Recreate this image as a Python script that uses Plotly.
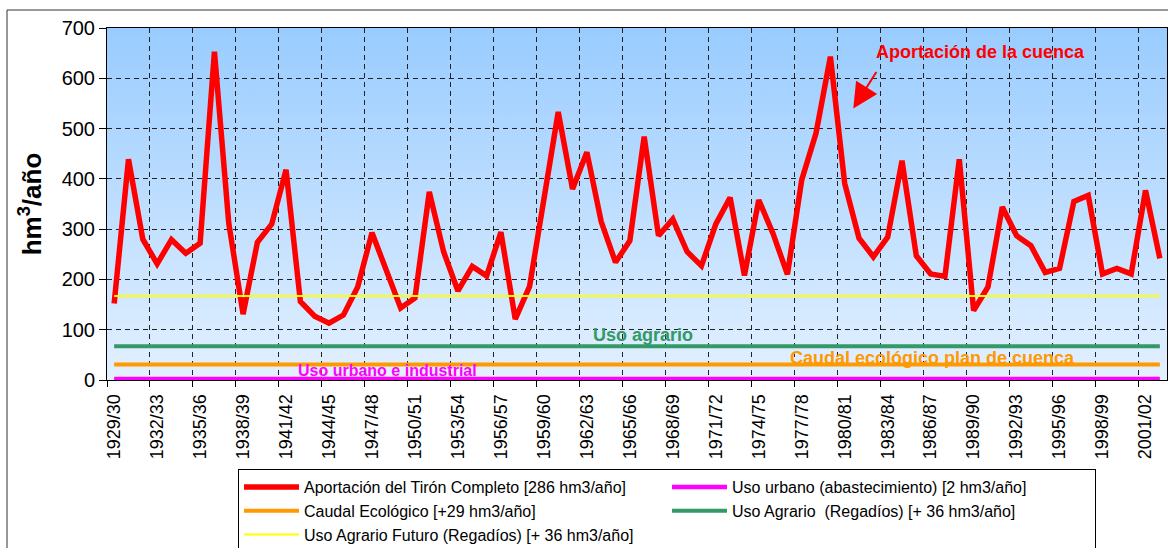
import base64
import plotly.graph_objects as go

# Hydrological years 1929/30 .. 2002/03
start_years = list(range(1929, 2003))
seasons = [f"{y}/{str(y + 1)[-2:]}" for y in start_years]

# Annual inflow of the basin (hm3/year)
aportacion = [152, 439, 280, 231, 279, 252, 272, 653, 312, 131,
              274, 310, 418, 156, 127, 113, 129, 185, 293, 219,
              143, 163, 374, 255, 177, 226, 207, 294, 121, 186,
              358, 533, 380, 453, 315, 234, 277, 484, 287, 320,
              255, 227, 310, 363, 208, 358, 291, 210, 398, 491,
              643, 391, 282, 245, 284, 436, 247, 211, 206, 439,
              138, 185, 344, 287, 267, 214, 222, 355, 367, 211,
              222, 211, 377, 242]

# Cumulative demand levels (hm3/year)
nivel_urbano = 2
nivel_caudal = 31
nivel_agrario = 67
nivel_agrario_futuro = 167

y_ticks = [0, 100, 200, 300, 400, 500, 600, 700]

n = len(seasons)
idx = list(range(n))

FONT = "Liberation Sans, Arial, sans-serif"
RED = "#FF0000"
MAGENTA = "#FF00FF"
ORANGE = "#FF9900"
GREEN = "#339966"
YELLOW = "#FFFF00"

fig = go.Figure()

fig.add_trace(go.Scatter(
    x=idx, y=[nivel_urbano] * n, mode="lines",
    line=dict(color=MAGENTA, width=4.5),
    name="Uso urbano (abastecimiento) [2 hm3/año]", legendrank=2))
fig.add_trace(go.Scatter(
    x=idx, y=[nivel_caudal] * n, mode="lines",
    line=dict(color=ORANGE, width=4),
    name="Caudal Ecológico [+29 hm3/año]", legendrank=3))
fig.add_trace(go.Scatter(
    x=idx, y=[nivel_agrario] * n, mode="lines",
    line=dict(color=GREEN, width=4),
    name="Uso Agrario  (Regadíos) [+ 36 hm3/año]", legendrank=4))
fig.add_trace(go.Scatter(
    x=idx, y=aportacion, mode="lines",
    line=dict(color=RED, width=5.5),
    name="Aportación del Tirón Completo [286 hm3/año]", legendrank=1))
fig.add_trace(go.Scatter(
    x=idx, y=[nivel_agrario_futuro] * n, mode="lines", xaxis="x2",
    line=dict(color=YELLOW, width=2),
    name="Uso Agrario Futuro (Regadíos) [+ 36 hm3/año]", legendrank=5))

# Sky gradient behind the plot area
svg = ('<svg xmlns="http://www.w3.org/2000/svg" width="10" height="100" '
       'preserveAspectRatio="none"><defs><linearGradient id="g" x1="0" y1="0" '
       'x2="0" y2="1"><stop offset="0" stop-color="#99CCFF"/>'
       '<stop offset="1" stop-color="#E3F0FF"/></linearGradient></defs>'
       '<rect width="10" height="100" fill="url(#g)"/></svg>')
bg_src = "data:image/svg+xml;base64," + base64.b64encode(svg.encode()).decode()

xrange = [-0.5, n - 0.5]
boundaries = [i + 0.5 for i in range(-1, n - 1, 3)]

fig.update_layout(
    width=1168, height=548,
    margin=dict(l=107, r=1, t=28, b=168, autoexpand=False),
    paper_bgcolor="white",
    plot_bgcolor="rgba(0,0,0,0)",
    font=dict(family=FONT, color="black"),
    showlegend=True,
    images=[dict(source=bg_src, xref="paper", yref="paper", x=0, y=1,
                 sizex=1, sizey=1, xanchor="left", yanchor="top",
                 sizing="stretch", layer="below")],
    xaxis=dict(
        range=xrange, tickmode="array",
        tickvals=idx[::3], ticktext=seasons[::3],
        tickangle=-90, tickfont=dict(size=18, family=FONT),
        ticks="outside", ticklen=6, tickcolor="rgba(0,0,0,0)",
        showgrid=False, zeroline=False,
        showline=True, linecolor="black", linewidth=1, mirror=True,
    ),
    xaxis2=dict(
        range=xrange, overlaying="x", anchor="y", side="bottom",
        tickmode="array", tickvals=boundaries, showticklabels=False,
        ticks="outside", ticklen=6, tickcolor="black",
        showgrid=True, gridcolor="#222222", gridwidth=1, griddash="5px,4px",
        zeroline=False, showline=False,
    ),
    yaxis=dict(
        range=[0, 700], tickmode="array", tickvals=y_ticks,
        tickfont=dict(size=20, family=FONT),
        ticks="outside", ticklen=7, tickcolor="black",
        showgrid=True, gridcolor="#222222", gridwidth=1, griddash="5px,4px",
        zeroline=False,
        showline=True, linecolor="black", linewidth=1, mirror=True,
        title=dict(text="hm<sup>3</sup>/año",
                   font=dict(size=26, family=FONT, weight="bold"),
                   standoff=12),
    ),
    legend=dict(
        orientation="h", x=(238 - 107) / 1060, y=(380 - 469) / 352,
        xanchor="left", yanchor="top",
        entrywidth=358, itemwidth=55,
        bgcolor="white", bordercolor="black", borderwidth=1,
        font=dict(size=16, family=FONT),
        traceorder="normal",
    ),
)

# Outer chart frame
fig.add_shape(type="rect", xref="paper", yref="paper",
              x0=(7 - 107) / 1060, x1=1.05, y0=-0.6, y1=(380 - 10) / 352,
              line=dict(color="#333333", width=1), fillcolor="rgba(0,0,0,0)",
              layer="below")

bold = dict(family=FONT, weight="bold")
fig.add_annotation(x=60.5, y=652, text="Aportación de la cuenca", showarrow=False,
                   font=dict(size=18, color=RED, **bold))
fig.add_annotation(x=51.6, y=540, ax=24, ay=-38, text="", showarrow=True,
                   arrowhead=2, arrowsize=2.5, arrowwidth=2, arrowcolor=RED)
fig.add_annotation(x=36.9, y=89, text="Uso agrario", showarrow=False,
                   font=dict(size=18, color=GREEN, **bold))
fig.add_annotation(x=57.1, y=43, text="Caudal ecológico plan de cuenca", showarrow=False,
                   font=dict(size=18, color=ORANGE, **bold))
fig.add_annotation(x=19.1, y=18, text="Uso urbano e industrial", showarrow=False,
                   font=dict(size=16, color=MAGENTA, **bold))

fig.write_html("out.html")
